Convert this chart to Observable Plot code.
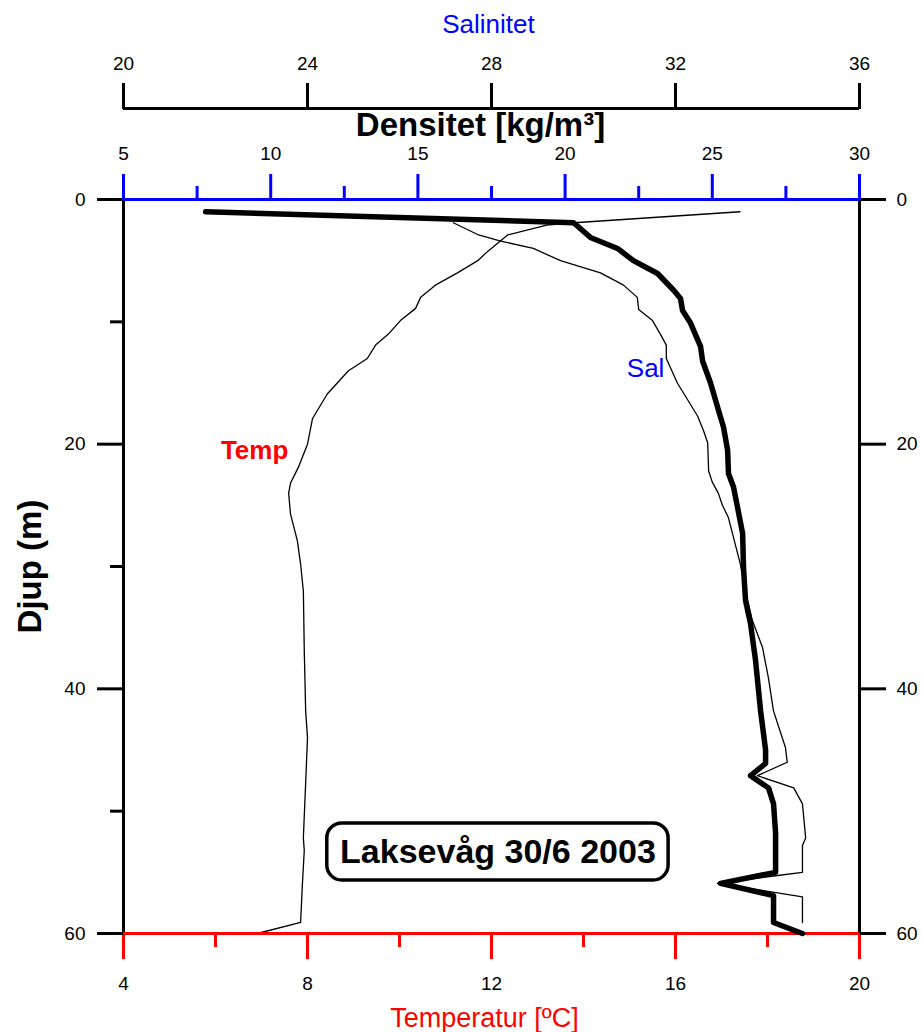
<!DOCTYPE html>
<html><head><meta charset="utf-8">
<script src="https://cdn.jsdelivr.net/npm/d3@7"></script>
<script src="https://cdn.jsdelivr.net/npm/@observablehq/plot@0.6"></script>
<style>
body{margin:0;background:#fff}
#wrap{position:relative;width:921px;height:1032px}
#wrap svg{position:absolute;left:0;top:0}
</style>
</head><body><div id="wrap"></div>
<script>
// ---- data ----
const depthT = [1.0,1.9,2.1,2.9,4.2,5.0,6.0,7.0,8.0,8.9,9.9,11.0,11.9,13.0,14.0,15.9,17.9,20.0,21.9,23.2,24.0,25.7,27.9,29.8,32.0,36.9,41.8,44.0,47.7,52.2,53.2,55.9,59.1,60.0];
const temp   = [17.4,13.8,13.2,12.35,11.93,11.7,11.26,10.78,10.46,10.35,10.02,9.76,9.48,9.3,8.89,8.43,8.11,8.0,7.8,7.63,7.59,7.63,7.78,7.85,7.91,7.93,7.96,8.0,7.96,7.91,7.93,7.89,7.85,6.91];

const depthS = [1.9,2.9,3.4,4.0,5.0,6.0,7.0,8.0,9.0,9.9,11.0,11.9,13.0,15.0,17.7,18.9,19.9,22.2,23.1,24.0,25.0,26.0,29.8,32.0,34.4,36.6,39.1,41.8,44.8,46.0,47.1,48.1,49.4,52.2,52.8,55.0,55.3,55.9,57.0,59.1];
const sal    = [27.17,27.72,28.2,28.91,29.5,30.37,30.87,31.17,31.2,31.5,31.67,31.8,31.8,32.04,32.48,32.61,32.7,32.72,32.8,32.93,33.02,33.15,33.41,33.52,33.67,33.89,34.02,34.13,34.39,34.43,33.78,34.57,34.76,34.83,34.76,34.76,34.13,32.91,34.76,34.76];

const depthD = [1.0,1.9,3.1,4.0,5.0,6.05,7.4,8.1,9.07,10.1,12.0,13.2,15.0,17.8,18.6,20.5,22.4,23.5,25.2,27.3,30.1,32.8,34.7,37.7,41.8,45.0,46.1,47.1,48.1,49.4,51.8,55.0,55.9,56.9,59.1,60.0];
const dens   = [7.79,20.29,20.86,21.78,22.32,23.14,23.68,23.92,23.99,24.26,24.6,24.67,24.94,25.28,25.38,25.52,25.55,25.72,25.86,26.03,26.06,26.13,26.3,26.47,26.64,26.81,26.81,26.3,26.91,27.08,27.15,27.15,25.28,27.08,27.08,28.06];

const tempTicks = [4,8,12,16,20];
const tempMinor = [6,10,14,18];
const salTicks = [20,24,28,32,36];
const densTicks = [5,10,15,20,25,30];
const densMinor = [7.5,12.5,17.5,22.5,27.5];
const depthTicks = [0,20,40,60];
const depthMinor = [10,30,50];

const tempLabel = [{text:"Temp", t:6.85, d:20.5}];
const salLabel = [{text:"Sal", s:31.35, d:13.8}];
const stationBox = [{text:"Laksevåg 30/6 2003", t1:8.43, t2:15.85, d1:51.0, d2:55.67}];

// ---- layout ----
const W = 921, H = 1032;
const FONT = "'Liberation Sans', Arial, sans-serif";
const base = {
  width: W, height: H, marginTop: 199, marginBottom: 99, marginLeft: 123, marginRight: 62,
  style: {background: "transparent", fontFamily: FONT, fontSize: "19px", color: "black", overflow: "visible"}
};
const wrap = document.getElementById("wrap");

const tRows = temp.map((t, i) => ({t, d: depthT[i]}));
const sRows = sal.map((s, i) => ({s, d: depthS[i]}));
const dRows = dens.map((v, i) => ({v, d: depthD[i]}));

// Plot A: temperature scale, frame, depth axes
const A = Plot.plot({
  ...base,
  x: {domain: [4, 20]},
  y: {domain: [0, 60], reverse: true},
  marks: [
    Plot.rect(stationBox, {x1: "t1", x2: "t2", y1: "d1", y2: "d2", rx: 15, fill: "white", stroke: "black", strokeWidth: 3.5}),
    Plot.text(stationBox, {x: d => (d.t1 + d.t2) / 2, y: d => (d.d1 + d.d2) / 2, text: "text", fontSize: 34, fontWeight: "bold", fill: "black"}),
    Plot.line(tRows, {x: "t", y: "d", stroke: "black", strokeWidth: 1.3}),
    Plot.ruleX([4, 20], {stroke: "black", strokeWidth: 3}),
    Plot.ruleY([60], {stroke: "red", strokeWidth: 3}),
    Plot.axisX({ticks: tempTicks, anchor: "bottom", tickSize: 26, tickPadding: 17, stroke: "red", strokeWidth: 3, fill: "black", fontSize: 19, label: null}),
    Plot.axisX({ticks: tempMinor, anchor: "bottom", tickSize: 14, stroke: "red", strokeWidth: 3, tickFormat: () => "", label: null}),
    Plot.axisY({ticks: depthTicks, anchor: "left", tickSize: 26, tickPadding: 12, strokeWidth: 3, fill: "black", fontSize: 19, label: null}),
    Plot.axisY({ticks: depthMinor, anchor: "left", tickSize: 13, strokeWidth: 3, tickFormat: () => "", label: null}),
    Plot.axisY({ticks: depthTicks, anchor: "right", tickSize: 26, tickPadding: 11, strokeWidth: 3, fill: "black", fontSize: 19, label: null}),
    Plot.text(["Temperatur [ºC]"], {frameAnchor: "bottom", lineAnchor: "middle", dy: 85, dx: -7, fill: "red", fontSize: 27}),
    Plot.text(["Djup (m)"], {frameAnchor: "left", textAnchor: "middle", lineAnchor: "middle", dx: -93, rotate: -90, fontWeight: "bold", fontSize: 33, fill: "black"}),
    Plot.text(tempLabel, {x: "t", y: "d", text: "text", fill: "red", fontWeight: "bold", fontSize: 26})
  ]
});

// Plot C: salinity line
const C = Plot.plot({
  ...base,
  x: {domain: [20, 36]},
  y: {domain: [0, 60], reverse: true, axis: null},
  marks: [
    Plot.line(sRows, {x: "s", y: "d", stroke: "black", strokeWidth: 1.3}),
    Plot.text(salLabel, {x: "s", y: "d", text: "text", fill: "blue", fontSize: 26}),
    Plot.axisX({ticks: [], anchor: "bottom", tickSize: 0, label: null})
  ]
});

// Plot D: salinity axis (above the density axis)
const D = Plot.plot({
  ...base,
  marginTop: 108,
  x: {domain: [20, 36]},
  y: {domain: [0, 1], reverse: true, axis: null},
  marks: [
    Plot.ruleY([0], {stroke: "black", strokeWidth: 3}),
    Plot.axisX({ticks: salTicks, anchor: "top", tickSize: 26, tickPadding: 13, strokeWidth: 3, fill: "black", fontSize: 19, label: null}),
    Plot.text(["Salinitet"], {frameAnchor: "top", lineAnchor: "middle", dy: -84, dx: -3, fill: "blue", fontSize: 26})
  ]
});

// Plot B: density scale and thick line
const B = Plot.plot({
  ...base,
  x: {domain: [5, 30]},
  y: {domain: [0, 60], reverse: true, axis: null},
  marks: [
    Plot.ruleY([0], {stroke: "blue", strokeWidth: 3}),
    Plot.axisX({ticks: densTicks, anchor: "top", tickSize: 26, tickPadding: 14, stroke: "blue", strokeWidth: 3, fill: "black", fontSize: 19, label: null}),
    Plot.axisX({ticks: densMinor, anchor: "top", tickSize: 14, stroke: "blue", strokeWidth: 3, tickFormat: () => "", label: null}),
    Plot.line(dRows, {x: "v", y: "d", stroke: "black", strokeWidth: 5.5, strokeLinecap: "round", strokeLinejoin: "round"}),
    Plot.text(["Densitet [kg/m³]"], {frameAnchor: "top", lineAnchor: "middle", dy: -74, dx: -11, fill: "black", fontWeight: "bold", fontSize: 33})
  ]
});

wrap.append(A, C, D, B);
</script>
</body></html>
